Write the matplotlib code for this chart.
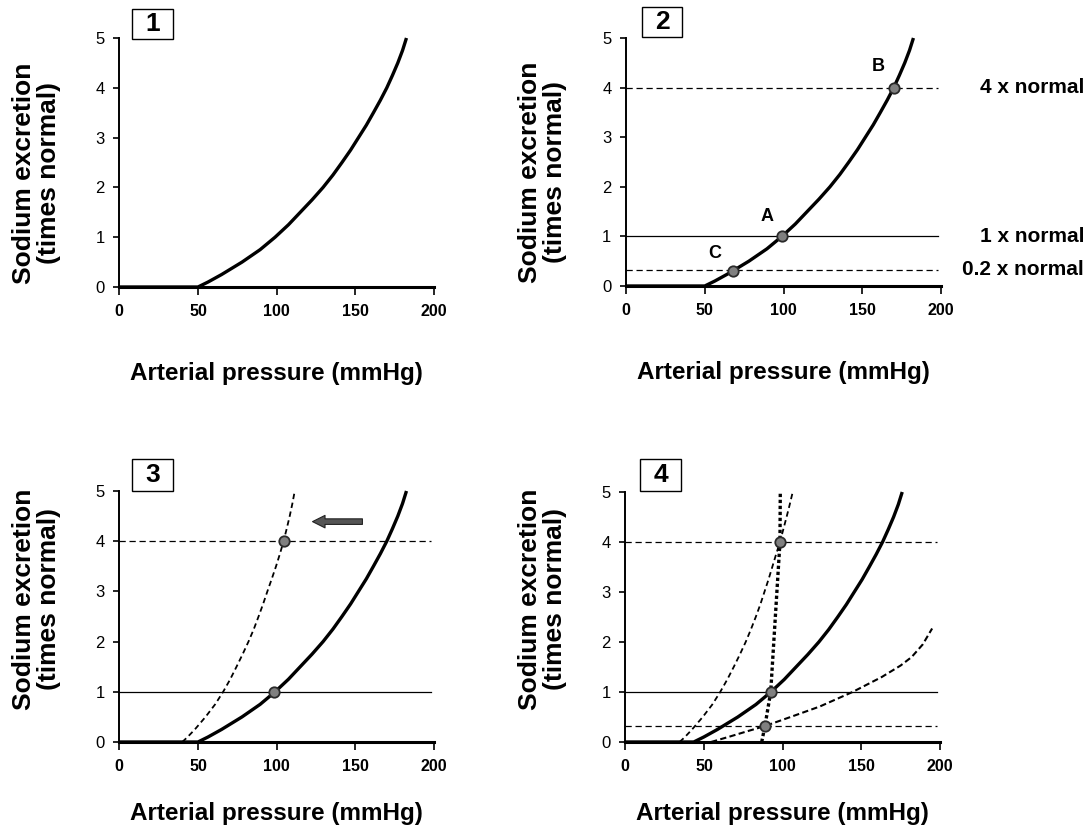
import matplotlib
matplotlib.use("Agg")
import matplotlib.pyplot as plt
from matplotlib.patches import Rectangle

plt.rcParams['font.family'] = ['Liberation Sans', 'DejaVu Sans']

# ---------------- data ----------------
x_ticks = [0, 50, 100, 150, 200]
y_ticks = [0, 1, 2, 3, 4, 5]

# normal pressure-natriuresis curve
normal_x = [0, 50, 56.4, 65, 78, 89.5, 99, 107.5, 115, 122.5, 129.5, 135.8, 141.5,
            147, 152, 157, 161.5, 165.9, 170, 173.6, 177, 180, 182.5]
normal_y = [0, 0, 0.1, 0.25, 0.5, 0.75, 1, 1.25, 1.5, 1.75, 2, 2.25, 2.5,
            2.75, 3, 3.25, 3.5, 3.75, 4, 4.25, 4.5, 4.75, 5]

# panel 3: curve shifted to the left (dashed)
shift_x = [40, 43.4, 48, 54.8, 60.9, 66.0, 70.5, 74.5, 78.4, 82.1, 85.5, 88.5,
           91.4, 94.1, 96.9, 99.6, 102.1, 104.4, 106.4, 108.3, 110, 111.5]
shift_y = [0, 0.1, 0.25, 0.5, 0.75, 1, 1.25, 1.5, 1.75, 2, 2.25, 2.5,
           2.75, 3, 3.25, 3.5, 3.75, 4, 4.25, 4.5, 4.75, 5]

# panel 4 curves
p4_solid_x = [0, 43.5, 49.9, 58.5, 71.5, 83, 92.5, 101, 108.5, 116, 123, 129.3, 135,
              140.5, 145.5, 150.5, 155, 159.4, 163.5, 167.1, 170.5, 173.5, 176]
p4_solid_y = [0, 0, 0.1, 0.25, 0.5, 0.75, 1, 1.25, 1.5, 1.75, 2, 2.25, 2.5,
              2.75, 3, 3.25, 3.5, 3.75, 4, 4.25, 4.5, 4.75, 5]
p4_steep_x = [34.5, 37.9, 42.4, 49.2, 55.3, 60.3, 64.8, 68.9, 72.8, 76.5, 79.8, 82.9,
              85.8, 88.4, 91.0, 93.4, 95.8, 98.3, 100.4, 102.5, 104.5, 106.4]
p4_steep_y = [0, 0.1, 0.25, 0.5, 0.75, 1, 1.25, 1.5, 1.75, 2, 2.25, 2.5,
              2.75, 3, 3.25, 3.5, 3.75, 4, 4.25, 4.5, 4.75, 5]
p4_flat_x = [54.5, 66.5, 77, 88.8, 105, 123.6, 144.4, 163, 175, 182, 189, 195]
p4_flat_y = [0, 0.11, 0.21, 0.32, 0.5, 0.71, 1.0, 1.3, 1.53, 1.7, 1.95, 2.27]
p4_dot_x = [86.7, 88.8, 92.4, 98.3, 98.5]
p4_dot_y = [0, 0.33, 1, 4, 5]

# reference levels
level_values = [4, 1, 0.33]
level_names = ["4 x normal", "1 x normal", "0.2 x normal"]
level_end = 198

# points
p2_pts_x = [99, 170, 68]
p2_pts_y = [1, 4, 0.3]
p2_pt_labels = ["A", "B", "C"]
p2_lab_x = [89.3, 160, 56.5]
p2_lab_y = [1.40, 4.42, 0.65]
p3_pts_x = [98.5, 104.4]
p3_pts_y = [1, 4]
p4_pts_x = [92.4, 98.3, 88.8]
p4_pts_y = [1, 4, 0.33]

arrow_from = (154.5, 4.39)
arrow_to = (122.8, 4.39)

# ---------------- figure ----------------
W, H = 1089, 827
fig = plt.figure(figsize=(W / 100, H / 100), dpi=100)

def px_ax(l, r, t, b):
    return [l / W, 1 - b / H, (r - l) / W, (b - t) / H]

axes_px = [
    (119.3, 434.0, 38, 287),
    (626.0, 941.0, 38, 286),
    (119.3, 434.0, 491, 742),
    (625.3, 940.0, 492, 742),
]
box_px = [(132, 173, 9, 39), (642, 682, 7, 37), (132, 173, 459, 491), (640, 681, 459, 491)]
ylab_y = [0.458, 0.458, 0.57, 0.57]
xlab_base = [-0.3735, -0.3735, -0.312, -0.312]

axs = []
for i, (l, r, t, b) in enumerate(axes_px):
    ax = fig.add_axes(px_ax(l, r, t, b))
    ax.set_xlim(0, 200)
    ax.set_ylim(0, 5)
    ax.set_xticks(x_ticks)
    ax.set_yticks(y_ticks)
    ax.set_xticklabels([str(v) for v in x_ticks], fontsize=11.5, fontweight='bold')
    ax.set_yticklabels([str(v) for v in y_ticks], fontsize=12)
    for s in ['top', 'right']:
        ax.spines[s].set_visible(False)
    ax.spines['left'].set_linewidth(1.4)
    ax.spines['bottom'].set_linewidth(2.2)
    ax.tick_params(axis='x', direction='out', length=6, width=1.2, pad=6)
    ax.tick_params(axis='y', direction='out', length=4.5, width=1.2, pad=6)
    ax.set_xlabel("Arterial pressure (mmHg)", fontsize=17.5, fontweight='bold')
    ax.xaxis.set_label_coords(0.5, xlab_base[i])
    ax.xaxis.label.set_va('baseline')
    ax.set_ylabel("Sodium excretion\n(times normal)", fontsize=19, fontweight='bold',
                  linespacing=1.05)
    ax.yaxis.set_label_coords(-0.264, ylab_y[i])
    ax.yaxis.label.set_va('center')
    # panel number box
    bl, br, bt, bb = box_px[i]
    fig.add_artist(Rectangle((bl / W, 1 - bb / H), (br - bl) / W, (bb - bt) / H,
                             transform=fig.transFigure, fill=False, ec='black', lw=1.0))
    fig.text((bl + br) / 2 / W, 1 - (bt + bb) / 2 / H, str(i + 1), fontsize=19,
             fontweight='bold', ha='center', va='center')
    axs.append(ax)

curve_kw = dict(color='black', lw=2.4, clip_on=False, solid_capstyle='butt',
                solid_joinstyle='round')
dash_lvl = dict(color='black', lw=0.9, ls=(0, (5, 3)), clip_on=False)
solid_lvl = dict(color='black', lw=0.9, clip_on=False)
dot_kw = dict(marker='o', ms=7.5, mfc='#808080', mec='#2a2a2a', mew=1.3, ls='none',
              zorder=5, clip_on=False)

# panel 1
ax = axs[0]
ax.plot(normal_x, normal_y, **curve_kw)

# panel 2
ax = axs[1]
ax.plot([0, level_end], [level_values[0]] * 2, **dash_lvl)
ax.plot([0, level_end], [level_values[1]] * 2, **solid_lvl)
ax.plot([0, level_end], [level_values[2]] * 2, **dash_lvl)
ax.plot(normal_x, normal_y, **curve_kw)
ax.plot(p2_pts_x, p2_pts_y, **dot_kw)
for lab, lx, ly in zip(p2_pt_labels, p2_lab_x, p2_lab_y):
    ax.text(lx, ly, lab, fontsize=13, fontweight='bold', ha='center', va='center')
for name, v in zip(level_names, level_values):
    yy = ax.transData.transform((0, v))[1]
    fig.text(1084 / W, yy / fig.dpi / fig.get_figheight(), name, fontsize=15,
             fontweight='bold', ha='right', va='center')

# panel 3
ax = axs[2]
ax.plot([0, level_end], [level_values[0]] * 2, **dash_lvl)
ax.plot([0, level_end], [level_values[1]] * 2, **solid_lvl)
ax.plot(normal_x, normal_y, **curve_kw)
ax.plot(shift_x, shift_y, color='black', lw=1.3, ls=(0, (3, 2)), clip_on=False)
ax.plot(p3_pts_x, p3_pts_y, **dot_kw)
ax.annotate('', xy=arrow_to, xytext=arrow_from,
            arrowprops=dict(arrowstyle='simple,head_length=0.9,head_width=0.9,tail_width=0.4',
                            fc='#555555', ec='#222222', lw=0.8, shrinkA=0, shrinkB=0))

# panel 4
ax = axs[3]
ax.plot([0, level_end], [level_values[0]] * 2, **dash_lvl)
ax.plot([0, level_end], [level_values[1]] * 2, **solid_lvl)
ax.plot([0, level_end], [level_values[2]] * 2, **dash_lvl)
ax.plot(p4_solid_x, p4_solid_y, **curve_kw)
ax.plot(p4_steep_x, p4_steep_y, color='black', lw=1.3, ls=(0, (3, 2)), clip_on=False)
ax.plot(p4_flat_x, p4_flat_y, color='black', lw=1.5, ls=(0, (3, 1.6)), clip_on=False)
ax.plot(p4_dot_x, p4_dot_y, color='black', lw=2.4, ls=(0, (1, 0.8)), clip_on=False)
ax.plot(p4_pts_x, p4_pts_y, **dot_kw)

fig.savefig("out.png", dpi=100)
